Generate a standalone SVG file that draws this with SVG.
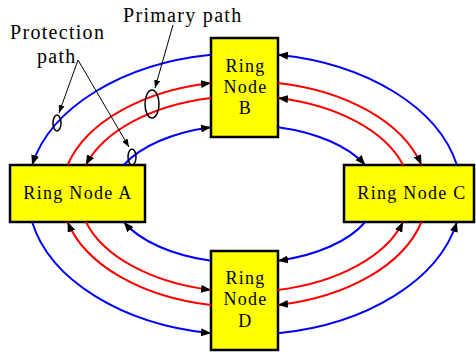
<svg xmlns="http://www.w3.org/2000/svg" width="476" height="352" viewBox="0 0 476 352">
<style>
.box{fill:#ffff00;stroke:#000;stroke-width:2.5}
.lbl{font-family:"Liberation Serif","Times New Roman",serif;font-size:18px;letter-spacing:1.3px;fill:#000}
.ann{font-family:"Liberation Serif","Times New Roman",serif;font-size:20px;letter-spacing:1.3px;fill:#000}
.b{fill:none;stroke:#0000ff;stroke-width:2;marker-end:url(#ah)}
.r{fill:none;stroke:#ff0000;stroke-width:2;marker-end:url(#ah)}
.pt{fill:none;stroke:#000;stroke-width:1;marker-end:url(#sa)}
.el{fill:none;stroke:#000;stroke-width:1.5}
</style>
<defs>
<marker id="ah" viewBox="0 0 10 8" refX="10" refY="4" markerWidth="10" markerHeight="8" markerUnits="userSpaceOnUse" orient="auto">
<path d="M0,0 L10,4 L0,8 z" fill="#000"/>
</marker>
<marker id="sa" viewBox="0 0 8 6" refX="8" refY="3" markerWidth="8" markerHeight="6" markerUnits="userSpaceOnUse" orient="auto">
<path d="M0,0 L8,3 L0,6 z" fill="#000"/>
</marker>
</defs>
<g id="nodeA"><rect class="box" x="10" y="165" width="135" height="57"/><text class="lbl" x="78" y="199" text-anchor="middle">Ring Node A</text></g>
<g id="nodeB"><rect class="box" x="211" y="38" width="67" height="99"/><text class="lbl" text-anchor="middle"><tspan x="245.5" y="72">Ring</tspan><tspan x="245.5" y="93">Node</tspan><tspan x="245.5" y="114">B</tspan></text></g>
<g id="nodeC"><rect class="box" x="344" y="165" width="130" height="57"/><text class="lbl" x="412" y="199" text-anchor="middle">Ring Node C</text></g>
<g id="nodeD"><rect class="box" x="211" y="251" width="67" height="99"/><text class="lbl" text-anchor="middle"><tspan x="245.5" y="284">Ring</tspan><tspan x="245.5" y="305">Node</tspan><tspan x="245.5" y="327">D</tspan></text></g>
<g id="connectors">
<path class="b" d="M211,54.7 A217,141 0 0 0 32.1,165"/>
<path class="b" d="M456.9,165 A217,141 0 0 0 278,54.7"/>
<path class="b" d="M32.1,222 A217,141 0 0 0 211,333.3"/>
<path class="b" d="M278,333.3 A217,141 0 0 0 456.9,222"/>
<path class="r" d="M67.6,165 A183,113 0 0 1 211,82.9"/>
<path class="r" d="M278,82.9 A183,113 0 0 1 421.4,165"/>
<path class="r" d="M421.4,222 A183,113 0 0 1 278,305.1"/>
<path class="r" d="M211,305.1 A183,113 0 0 1 67.6,222"/>
<path class="r" d="M211,98 A166,98 0 0 0 85.9,165"/>
<path class="r" d="M403.1,165 A166,98 0 0 0 278,98"/>
<path class="r" d="M278,290 A166,98 0 0 0 403.1,222"/>
<path class="r" d="M85.9,222 A166,98 0 0 0 211,290"/>
<path class="b" d="M123.8,165 A133,69 0 0 1 211,127.2"/>
<path class="b" d="M278,127.2 A133,69 0 0 1 365.2,165"/>
<path class="b" d="M365.2,222 A133,69 0 0 1 278,260.8"/>
<path class="b" d="M211,260.8 A133,69 0 0 1 123.8,222"/>
</g>
<g id="annotations">
<text class="ann" x="10" y="39">Protection</text>
<text class="ann" x="37" y="63">path</text>
<text class="ann" x="123" y="22">Primary path</text>
<path class="pt" d="M78,60 L59,113"/>
<path class="pt" d="M78,60 L129,147"/>
<path class="pt" d="M173,25 L155,88"/>
<ellipse class="el" cx="57" cy="123" rx="4" ry="8"/>
<ellipse class="el" cx="132" cy="157" rx="4" ry="8"/>
<ellipse class="el" cx="152" cy="104" rx="7" ry="14"/>
</g>
</svg>
